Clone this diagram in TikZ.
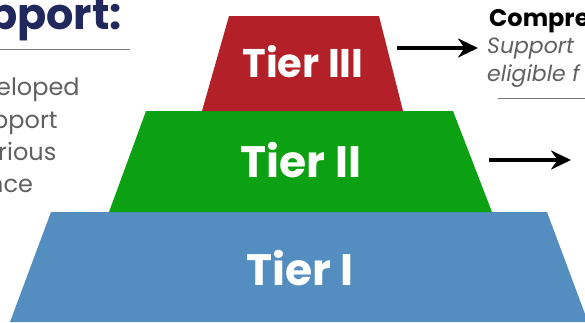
\documentclass[tikz,border=0pt]{standalone}
\usepackage{fontspec}
\setmainfont{Poppins}
\usetikzlibrary{arrows.meta,positioning}

\definecolor{tierred}{RGB}{179,32,39}
\definecolor{tiergreen}{RGB}{12,161,18}
\definecolor{tierblue}{RGB}{84,141,192}
\definecolor{titlenavy}{RGB}{32,40,92}
\definecolor{bodygray}{RGB}{96,96,96}
\definecolor{rulegray}{RGB}{120,120,120}

\tikzset{
    tierlabel/.style={text=white, font=\bfseries\fontsize{44}{44}\selectfont, anchor=base, inner sep=0pt},
    bodytext/.style={text=bodygray, font=\fontsize{24}{24}\selectfont, anchor=base west, inner sep=0pt},
    notetext/.style={text=bodygray, font=\itshape\fontsize{22}{22}\selectfont, anchor=base west, inner sep=0pt},
    pointer/.style={-{Stealth[length=20pt,width=19pt]}, line width=3.5pt, black},
}

\begin{document}
\begin{tikzpicture}[x=1pt, y=-1pt]
    \useasboundingbox (0,0) rectangle (585,322);

    % pyramid
    \fill[tierblue] (10,322) -- (51,212) -- (547,212) -- (588,322) -- cycle;
    \fill[tiergreen] (109,212) -- (146,111) -- (453,111) -- (492,212) -- cycle;
    \fill[tierred] (202,111) -- (229,16) -- (379,16) -- (403,111) -- cycle;

    \node[tierlabel, font=\bfseries\fontsize{40}{40}\selectfont] (tier3) at (303,77) {Tier III};
    \node[tierlabel] (tier2) at (301,177) {Tier II};
    \node[tierlabel] (tier1) at (300,285) {Tier I};

    % left column
    \node[anchor=base west, inner sep=0pt, text=titlenavy, font=\bfseries\fontsize{43}{43}\selectfont] (title) at (-12,29) {pport:};
    \draw[rulegray, line width=0.8pt] (0,49) -- (130,49);
    \node[bodytext] (line1) at (-4,95) {eloped};
    \node[bodytext] (line2) at (-8,128) {pport};
    \node[bodytext] (line3) at (-2,160) {rious};
    \node[bodytext] (line4) at (-12,192) {nce};

    % right column
    \node[anchor=base west, inner sep=0pt, text=black, font=\bfseries\fontsize{24}{24}\selectfont] (head3) at (489,26) {Compre};
    \node[notetext] (note3a) at (487,53) {Support};
    \node[notetext] (note3b) at (487,81) {eligible f};
    \draw[rulegray, line width=0.8pt] (498,98) -- (585,98);

    % arrows
    \coordinate (from3) at (397,48);
    \coordinate (to3) at (478,48);
    \coordinate (from2) at (489,160);
    \coordinate (to2) at (571,160);
    \draw[pointer] (from3) -- (to3);
    \draw[pointer] (from2) -- (to2);
\end{tikzpicture}
\end{document}
